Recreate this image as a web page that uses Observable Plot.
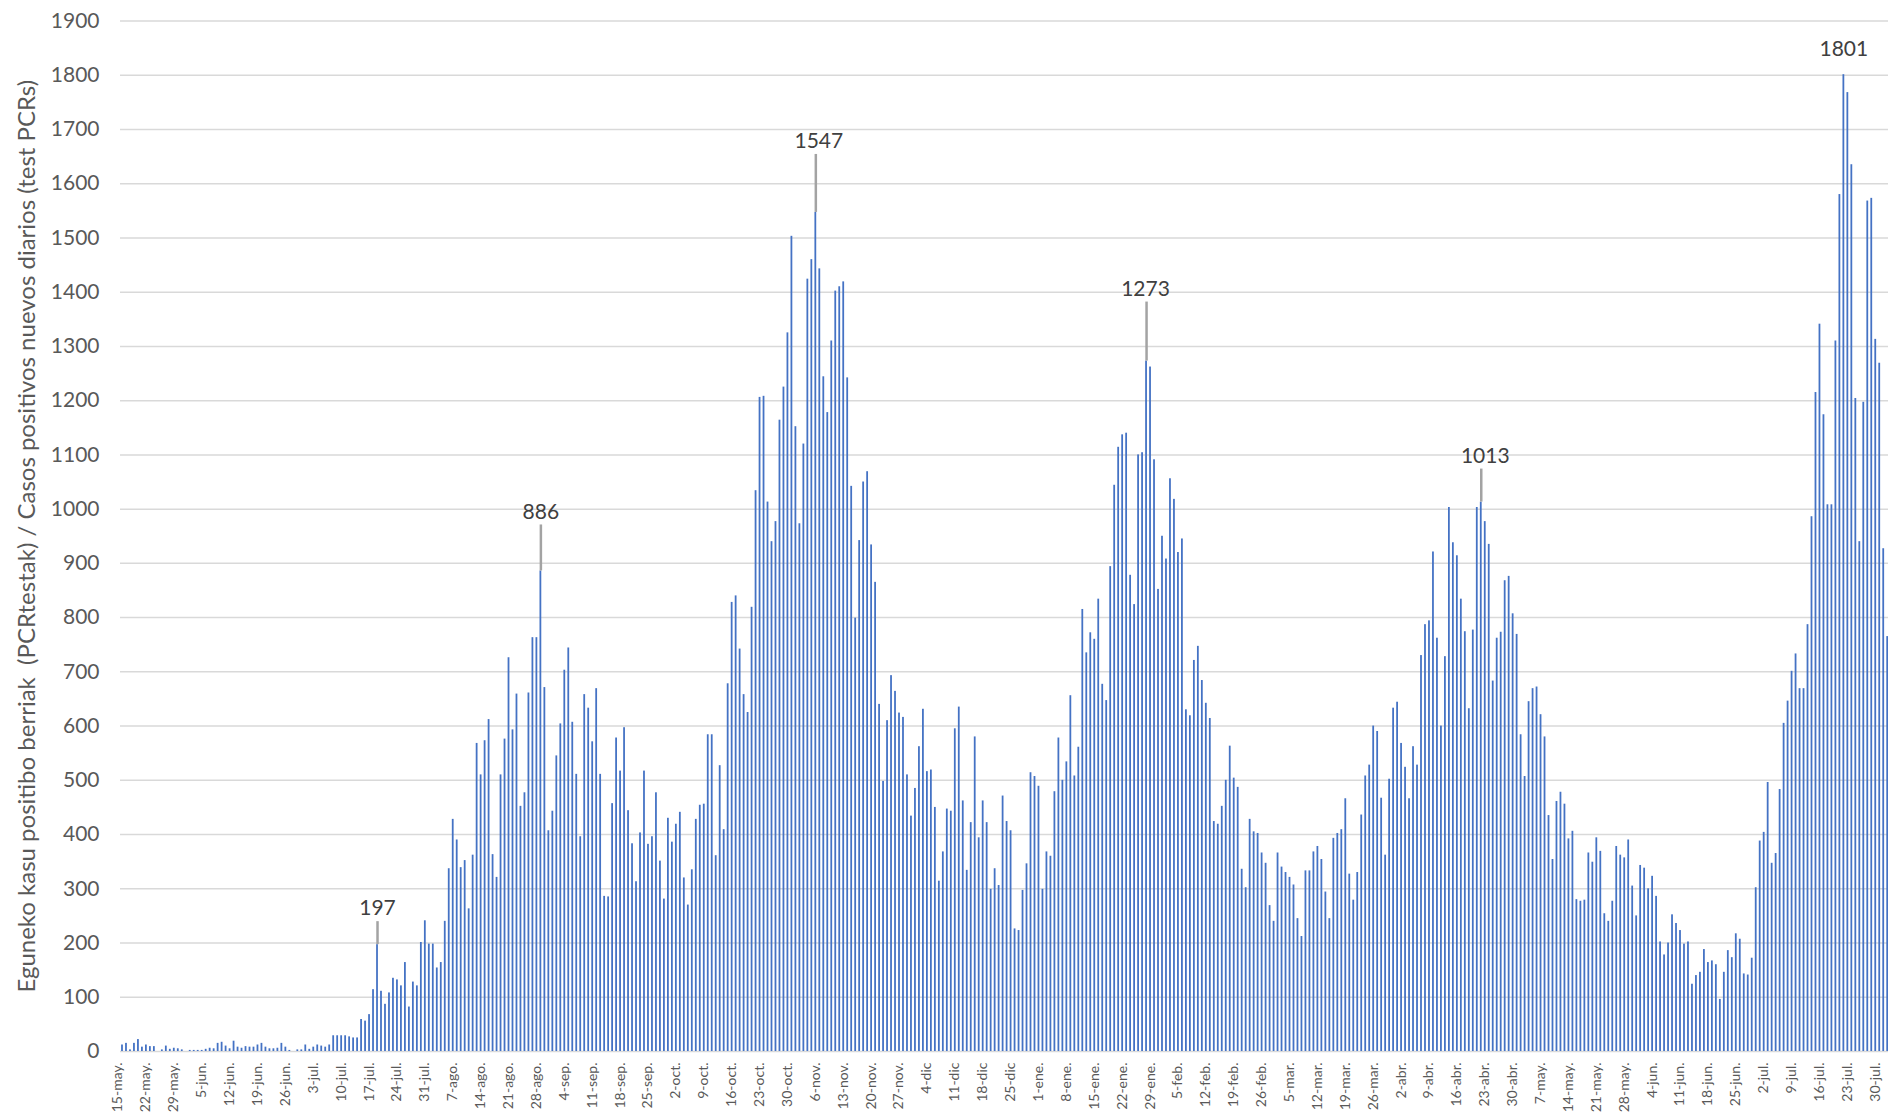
<!DOCTYPE html>
<html>
<head>
<meta charset="utf-8">
<script src="https://cdn.jsdelivr.net/npm/d3@7"></script>
<script src="https://cdn.jsdelivr.net/npm/@observablehq/plot@0.6"></script>
<style>
html, body { margin: 0; padding: 0; background: #ffffff; }
#chart svg { display: block; }
</style>
</head>
<body>
<div id="chart"></div>
<script>
// Daily new positive cases (PCR), starting 15 May 2020
const may2020 = [12,15,3,15,22,8,12,9,9,0,3,10,4,6,5,3,0];
const jun2020 = [2,2,2,2,4,6,5,15,17,10,5,19,8,6,9,8,8,12,15,8,5,5,6,15,8,2,0,3,3,12];
const jul2020 = [4,8,12,10,8,12,29,29,29,29,27,25,25,59,56,68,114,197,111,87,108,135,132,121,164,82,128,121,201,241,198];
const aug2020 = [198,154,164,240,337,428,390,339,352,263,362,568,510,573,612,363,321,510,576,726,593,659,452,477,661,763,763,886,671,407,443];
const sep2020 = [545,604,703,744,607,511,396,658,633,571,669,511,286,285,457,578,517,597,444,383,313,403,517,382,396,477,351,281,430,386];
const oct2020 = [419,441,320,270,335,428,454,456,584,584,361,527,409,678,828,840,742,658,625,819,1034,1206,1208,1013,940,977,1164,1225,1325,1503,1152];
const nov2020 = [973,1120,1424,1460,1547,1443,1244,1178,1310,1402,1410,1419,1242,1042,799,942,1050,1069,934,865,640,498,610,693,664,624,616,510,434,485];
const dec2020 = [562,631,516,519,450,314,368,447,443,595,635,462,334,422,580,394,462,422,299,337,306,471,424,407,226,223,297,346,514,507,489];
const jan2021 = [299,368,360,479,578,500,534,656,508,561,815,735,772,760,834,677,647,894,1044,1114,1137,1140,878,824,1100,1104,1273,1262,1091,852,950];
const feb2021 = [908,1056,1018,920,945,630,619,721,747,684,642,614,424,419,452,500,563,504,487,336,302,428,405,402,366,347,269,240];
const mar2021 = [366,340,330,321,307,245,212,333,333,368,378,354,294,245,393,402,409,466,327,279,330,436,508,528,600,590,467,362,502,633,644];
const apr2021 = [568,524,466,562,528,730,787,794,921,762,600,728,1003,938,914,834,774,632,777,1003,1013,977,935,683,762,773,868,876,807,769];
const may2021 = [584,507,645,669,672,621,580,435,354,461,478,456,392,406,280,277,279,366,349,394,369,254,240,277,378,362,357,390,305,250,343];
const jun2021 = [338,300,323,286,202,178,200,252,236,223,198,202,124,140,146,188,164,167,160,96,146,186,173,217,207,143,141,172,302,388];
const jul2021 = [404,496,347,365,483,605,646,701,733,669,669,787,986,1215,1341,1174,1008,1008,1310,1580,1801,1768,1635,1204,940,1197,1568,1573,1313,1269,927];
const aug2021 = [765];

const startDate = "2020-05-15";

const tickLabels = ["15-may.","22-may.","29-may.","5-jun.","12-jun.","19-jun.","26-jun.","3-jul.","10-jul.","17-jul.",
  "24-jul.","31-jul.","7-ago.","14-ago.","21-ago.","28-ago.","4-sep.","11-sep.","18-sep.","25-sep.",
  "2-oct.","9-oct.","16-oct.","23-oct.","30-oct.","6-nov.","13-nov.","20-nov.","27-nov.","4-dic",
  "11-dic","18-dic","25-dic","1-ene.","8-ene.","15-ene.","22-ene.","29-ene.","5-feb.","12-feb.",
  "19-feb.","26-feb.","5-mar.","12-mar.","19-mar.","26-mar.","2-abr.","9-abr.","16-abr.","23-abr.",
  "30-abr.","7-may.","14-may.","21-may.","28-may.","4-jun.","11-jun.","18-jun.","25-jun.","2-jul.",
  "9-jul.","16-jul.","23-jul.","30-jul."];

const yTicks = [0,100,200,300,400,500,600,700,800,900,1000,1100,1200,1300,1400,1500,1600,1700,1800,1900];

const yTitle = "Eguneko kasu positibo berriak  (PCRtestak) / Casos positivos nuevos diarios (test PCRs)";

// dates of the labelled peaks
const annotationDates = ["2020-07-18","2020-08-28","2020-11-05","2021-01-27","2021-04-21","2021-07-21"];

// ---- layout (positions / styles, kept apart from data) ----
const W = 1888, H = 1116;
const M = {left: 120, right: 0, top: 20.5, bottom: 65};
const tickStep = 7;
const annLayout = [
  {up: 36, dx: 0}, {up: 59, dx: 0}, {up: 71, dx: 3},
  {up: 72, dx: -1}, {up: 46, dx: 4}, {up: 25, dx: 0}
];
const textColor = "#595959";

const series = [may2020, jun2020, jul2020, aug2020, sep2020, oct2020, nov2020, dec2020,
  jan2021, feb2021, mar2021, apr2021, may2021, jun2021, jul2021, aug2021].flat();
const data = series.map((v, i) => ({i, v}));

const dayIndex = (s) => Math.round((Date.parse(s) - Date.parse(startDate)) / 864e5);
const ann = annotationDates.map((d, k) => {
  const i = dayIndex(d);
  return {i, v: series[i], label: String(series[i]), ...annLayout[k]};
});

const annMarks = ann.flatMap(a => {
  const ms = [];
  if (a.up > 30) {
    ms.push(Plot.ruleX([a], {x: "i", y1: "v", y2: "v", stroke: "#a3a3a3", strokeWidth: 2.5,
      insetTop: -(a.up - 13), insetBottom: 0}));
  }
  ms.push(Plot.text([a], {x: "i", y: "v", text: "label", dy: -a.up, dx: a.dx,
    fontSize: 21, fill: "#404040"}));
  return ms;
});

const chart = Plot.plot({
  width: W,
  height: H,
  marginLeft: M.left,
  marginRight: M.right,
  marginTop: M.top,
  marginBottom: M.bottom,
  x: {domain: [-0.5, series.length - 0.8], axis: null},
  y: {domain: [0, 1900], axis: null},
  style: {fontFamily: "Lato, 'Open Sans', sans-serif", background: "#ffffff", overflow: "hidden"},
  marks: [
    Plot.ruleY(yTicks, {y: d => d, stroke: "#d9d9d9", strokeWidth: 1.5}),
    Plot.rectY(data, {x1: d => d.i - 0.5, x2: d => d.i + 0.5, y: "v", fill: "#4472c4",
      insetLeft: 1.1, insetRight: 1.1}),
    Plot.text(yTicks, {y: d => d, text: d => String(d), frameAnchor: "left", textAnchor: "end",
      dx: -21, fontSize: 21, fill: textColor}),
    Plot.text(tickLabels, {x: (d, k) => k * tickStep, text: d => d, frameAnchor: "bottom",
      rotate: -90, textAnchor: "end", dy: 11, fontSize: 14, fill: textColor}),
    Plot.text([yTitle], {text: d => d, frameAnchor: "left", textAnchor: "middle", rotate: -90,
      dx: -93.5, fontSize: 24, fill: textColor}),
    ...annMarks
  ]
});

document.getElementById("chart").appendChild(chart);
</script>
</body>
</html>
